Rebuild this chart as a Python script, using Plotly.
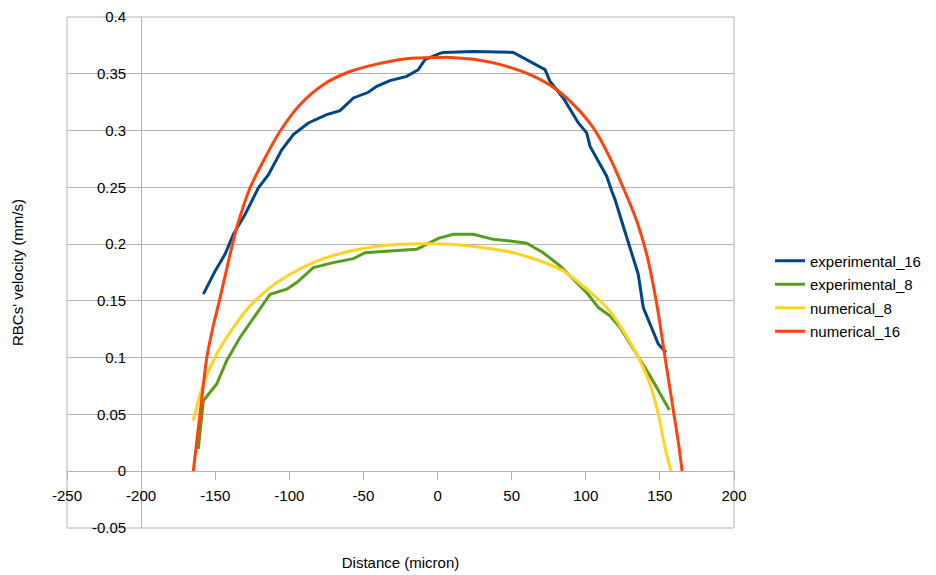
import plotly.graph_objects as go

# experimental_16
exp16_x = [-158.0, -150.2, -143.4, -137.8, -129.9, -120.9, -114.2, -105.1, -97.3, -87.2, -74.8, -65.8,
           -56.8, -46.7, -41.1, -32.1, -20.8, -13.0, -8.5, -5.1, 1.6, 3.9, 24.1, 51.1, 62.4, 72.5, 75.9,
           84.8, 95.0, 100.6, 102.9, 109.6, 114.1, 117.5, 119.7, 124.2, 129.8, 135.4, 138.8, 144.5,
           148.9, 154.1]
exp16_y = [0.156, 0.176, 0.191, 0.2086, 0.226, 0.2496, 0.261, 0.283, 0.2965, 0.3067, 0.314, 0.3176,
           0.3287, 0.3337, 0.339, 0.344, 0.3477, 0.3536, 0.3624, 0.3644, 0.368, 0.3688, 0.3697, 0.3688,
           0.361, 0.3536, 0.3433, 0.3287, 0.3067, 0.298, 0.286, 0.270, 0.2598, 0.2467, 0.2394, 0.2203,
           0.1968, 0.1735, 0.1441, 0.1251, 0.112, 0.1046]

# experimental_8
exp8_x = [-161.4, -158.0, -149.0, -142.3, -133.3, -123.2, -113.0, -101.8, -95.0, -83.8, -70.3, -56.8,
          -48.9, -32.1, -14.1, 0.5, 10.6, 24.1, 37.6, 48.9, 60.1, 71.3, 82.6, 91.6, 100.6, 108.5, 116.3,
          123.1, 132.1, 143.3, 156.4]
exp8_y = [0.0197, 0.0621, 0.0768, 0.0973, 0.1178, 0.1368, 0.1559, 0.1603, 0.1661, 0.1793, 0.1837, 0.1872,
          0.1924, 0.1939, 0.1954, 0.2051, 0.2086, 0.2086, 0.2042, 0.2027, 0.2007, 0.1924, 0.1808, 0.1691,
          0.1573, 0.1441, 0.1368, 0.1265, 0.1076, 0.0841, 0.054]

# numerical_8
num8_x = [-164.8, -158.0, -149.0, -137.8, -126.5, -113.0, -99.5, -81.5, -63.6, -43.3, -25.3, 8.4, 30.9,
          51.1, 69.1, 84.8, 100.6, 114.1, 125.3, 136.6, 143.3, 148.9, 153.4, 157.5]
num8_y = [0.0446, 0.0768, 0.1032, 0.1265, 0.1456, 0.1617, 0.1735, 0.1851, 0.1924, 0.1977, 0.1998, 0.1998,
          0.1968, 0.1924, 0.1851, 0.1764, 0.1603, 0.1441, 0.1236, 0.0973, 0.0768, 0.0504, 0.0211, 0.0]

# numerical_16
num16_x = [-164.8, -160.3, -155.7, -151.5, -147.2, -140.0, -135.5, -126.5, -117.6, -106.3, -92.8,
           -77.1, -59.1, -41.1, -20.8, 1.6, 8.4, 26.4, 44.4, 62.4, 80.4, 93.9, 105.1, 116.3, 125.3, 134.4,
           141.1, 147.9, 153.5, 159.5, 162.5, 165.0]
num16_y = [0.0, 0.05, 0.1, 0.127, 0.150, 0.191, 0.2144, 0.2496, 0.273, 0.2994, 0.3228, 0.3404, 0.352,
           0.3585, 0.3633, 0.3644, 0.3644, 0.3624, 0.3574, 0.3492, 0.336, 0.320, 0.3023, 0.276, 0.2496,
           0.2203, 0.191, 0.147, 0.1, 0.05, 0.025, 0.0]

x_ticks = [-250, -200, -150, -100, -50, 0, 50, 100, 150, 200]
y_ticks = [-0.05, 0, 0.05, 0.1, 0.15, 0.2, 0.25, 0.3, 0.35, 0.4]
y_ticktext = ["-0.05", "0", "0.05", "0.1", "0.15", "0.2", "0.25", "0.3", "0.35", "0.4"]

GRID = "#b3b3b3"
FONT = "Liberation Sans, Arial, sans-serif"

fig = go.Figure()
fig.add_trace(go.Scatter(x=exp16_x, y=exp16_y, mode="lines", name="experimental_16", legendgroup="g1",
                         line=dict(color="#004586", width=3)))
fig.add_trace(go.Scatter(x=exp8_x, y=exp8_y, mode="lines", name="experimental_8", legendgroup="g2",
                         line=dict(color="#579d1c", width=3)))
fig.add_trace(go.Scatter(x=num8_x, y=num8_y, mode="lines", name="numerical_8", legendgroup="g3",
                         line=dict(color="#ffd320", width=3, shape="spline", smoothing=0.8)))
fig.add_trace(go.Scatter(x=num16_x, y=num16_y, mode="lines", name="numerical_16", legendgroup="g4",
                         line=dict(color="#ff420e", width=3, shape="spline", smoothing=0.8)))

fig.update_layout(
    width=928, height=567,
    margin=dict(l=59, r=202, t=9, b=47, autoexpand=False),
    paper_bgcolor="white", plot_bgcolor="white",
    font=dict(family=FONT, size=15, color="#000000"),
    showlegend=True,
    legend=dict(x=1.054, y=0.454, xanchor="left", yanchor="middle", tracegroupgap=1,
                font=dict(family=FONT, size=15, color="#000000"),
                bgcolor="rgba(0,0,0,0)", borderwidth=0),
    xaxis=dict(range=[-250, 200], tickvals=x_ticks, ticktext=[str(v) for v in x_ticks],
               anchor="free", position=0.1111, showgrid=False, zeroline=False,
               showline=True, linecolor=GRID, linewidth=1,
               ticks="outside", ticklen=8, tickcolor=GRID, tickwidth=1, ticklabelstandoff=3,
               ticklabeloverflow="allow",
               tickfont=dict(family=FONT, size=15, color="#000000"),
               title=dict(text="Distance (micron)", standoff=54,
                          font=dict(family=FONT, size=15, color="#000000")),
               automargin=False),
    yaxis=dict(range=[-0.05, 0.4], tickvals=y_ticks, ticktext=y_ticktext,
               anchor="free", position=0.1111, showgrid=True, gridcolor=GRID, gridwidth=1,
               zeroline=False, showline=True, linecolor=GRID, linewidth=1,
               ticks="", ticklabelstandoff=12, ticklabeloverflow="allow",
               tickfont=dict(family=FONT, size=15, color="#000000"),
               title=dict(text="RBCs' velocity (mm/s)", standoff=63,
                          font=dict(family=FONT, size=15, color="#000000")),
               automargin=False),
    shapes=[dict(type="rect", xref="paper", yref="paper", x0=0, x1=1, y0=0, y1=1,
                 line=dict(color=GRID, width=1), fillcolor="rgba(0,0,0,0)", layer="below")],
)

fig.write_html("out.html")
